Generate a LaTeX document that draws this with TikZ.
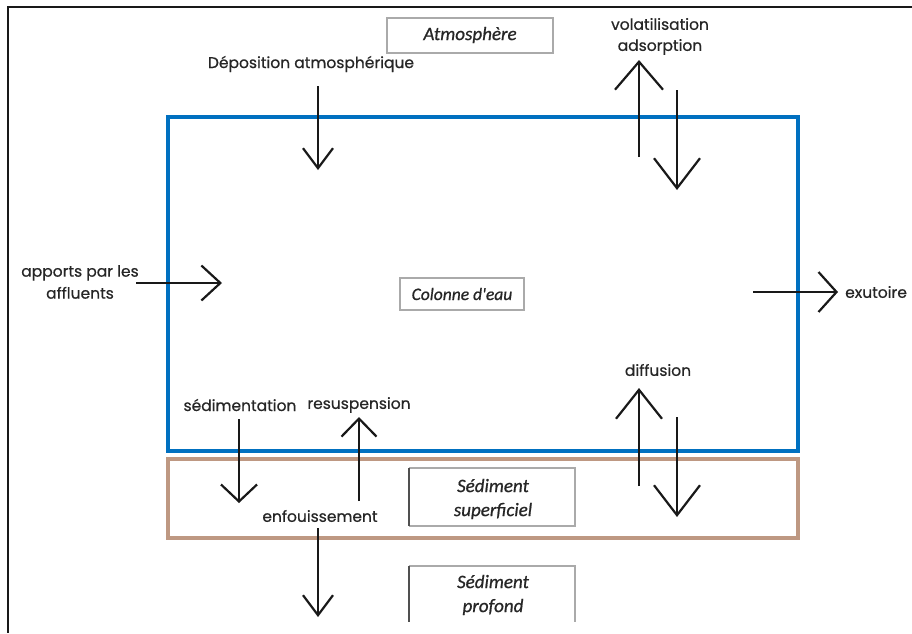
\documentclass[tikz,border=0pt]{standalone}
\usepackage{fontspec}
\setmainfont{Poppins}
\newfontfamily\lblfont{Poppins}[FakeBold=0.6]
\newfontfamily\boxfont{Carlito}[ItalicFeatures={FakeBold=0.8}]
\usetikzlibrary{arrows.meta}
\definecolor{waterblue}{RGB}{0,112,192}
\definecolor{sedbrown}{RGB}{190,152,130}
\definecolor{boxgray}{RGB}{170,170,170}
\definecolor{boxdark}{RGB}{80,80,80}
\tikzset{
  lbl/.style={font=\lblfont\fontsize{15.5}{22}\selectfont, text=black!85, inner sep=0pt, align=center},
  boxlbl/.style={font=\boxfont\itshape\fontsize{19}{24}\selectfont, text=black!85, inner sep=0pt, align=center},
  arrowline/.style={line width=2.2pt, draw=black!90}
}
\begin{document}
\begin{tikzpicture}[x=1pt,y=-1pt]
\useasboundingbox (0,0) rectangle (912,633);
% outer frame (cropped)
\draw[line width=2.6pt, black!90] (912,7) -- (8,7) -- (8,633);
% compartments
\draw[line width=4.5pt, waterblue] (168,117) rectangle (798,451);
\draw[line width=3.5pt, sedbrown] (168,459) rectangle (798,538);
% label boxes
\node[boxlbl] (atm) at (470,35) {Atmosphère};
\draw[line width=1.5pt, boxgray] (387,18) rectangle (553,53);
\node[boxlbl, font=\boxfont\itshape\fontsize{17.5}{22}\selectfont] (col) at (462,294) {Colonne d'eau};
\draw[line width=1.3pt, boxgray] (400,278) rectangle (524,310);
\node[boxlbl] (sup) at (493,499) {Sédiment\\superficiel};
\draw[line width=1.2pt, boxgray] (409,468) -- (575,468) -- (575,526) -- (409,526);
\draw[line width=1.6pt, boxdark] (409,468) -- (409,526);
\node[boxlbl] (prof) at (493,595) {Sédiment\\profond};
\draw[line width=1.2pt, boxgray] (409,566) -- (575,566) -- (575,622);
\draw[line width=1.6pt, boxdark] (409,566) -- (409,622);
% process labels
\node[lbl] (dep) at (311,64) {Déposition atmosphérique};
\node[lbl] (vol) at (660,24) {volatilisation};
\node[lbl] (ads) at (660,47) {adsorption};
\node[lbl] (app) at (80,282) {apports par les\\affluents};
\node[lbl, anchor=west] (exu) at (845,292) {exutoire};
\node[lbl] (dif) at (658,370) {diffusion};
\node[lbl] (sed) at (240,405) {sédimentation};
\node[lbl] (res) at (359,405) {resuspension};
\node[lbl] (enf) at (320,516) {enfouissement};
% arrow end points
\coordinate (depA) at (318,86);   \coordinate (depB) at (318,170);
\coordinate (volA) at (639,157);  \coordinate (volB) at (639,60);
\coordinate (adsA) at (677,90);   \coordinate (adsB) at (677,190);
\coordinate (appA) at (136,283);  \coordinate (appB) at (222,283);
\coordinate (exuA) at (753,292);  \coordinate (exuB) at (838,292);
\coordinate (difA) at (639,486);  \coordinate (difB) at (639,388);
\coordinate (dfdA) at (677,417);  \coordinate (dfdB) at (677,517);
\coordinate (sedA) at (239,419);  \coordinate (sedB) at (239,503);
\coordinate (resA) at (359,501);  \coordinate (resB) at (359,417);
\coordinate (enfA) at (318,528);  \coordinate (enfB) at (318,617);
% arrows
\draw[arrowline, -{Straight Barb[length=20pt,width=30pt,line width=2.2pt]}] (depA) -- (depB);
\draw[arrowline, -{Straight Barb[length=28pt,width=48pt,line width=2.2pt]}] (volA) -- (volB);
\draw[arrowline, -{Straight Barb[length=30pt,width=46pt,line width=2.2pt]}] (adsA) -- (adsB);
\draw[arrowline, -{Straight Barb[length=19pt,width=35pt,line width=2.2pt]}] (appA) -- (appB);
\draw[arrowline, -{Straight Barb[length=18pt,width=40pt,line width=2.2pt]}] (exuA) -- (exuB);
\draw[arrowline, -{Straight Barb[length=29pt,width=46pt,line width=2.2pt]}] (difA) -- (difB);
\draw[arrowline, -{Straight Barb[length=30pt,width=46pt,line width=2.2pt]}] (dfdA) -- (dfdB);
\draw[arrowline, -{Straight Barb[length=17pt,width=36pt,line width=2.2pt]}] (sedA) -- (sedB);
\draw[arrowline, -{Straight Barb[length=18pt,width=35pt,line width=2.2pt]}] (resA) -- (resB);
\draw[arrowline, -{Straight Barb[length=20pt,width=30pt,line width=2.2pt]}] (enfA) -- (enfB);
\end{tikzpicture}
\end{document}
